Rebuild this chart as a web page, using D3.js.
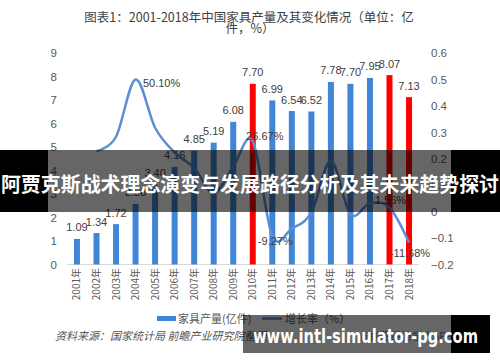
<!DOCTYPE html>
<html>
<head>
<meta charset="utf-8">
<script src="https://cdn.jsdelivr.net/npm/d3@7"></script>
<style>
  body { margin: 0; background: #fff; }
  svg { display: block; font-family: "Liberation Sans", Arial, "Noto Sans CJK SC", sans-serif; }
  .cjk { font-family: "Noto Sans CJK SC", "Noto Sans", sans-serif; }
</style>
</head>
<body>
<div id="chart"></div>
<script>
// Chart data
const years = ["2001年", "2002年", "2003年", "2004年", "2005年", "2006年", "2007年", "2008年", "2009年",
  "2010年", "2011年", "2012年", "2013年", "2014年", "2015年", "2016年", "2017年", "2018年"];
const output = [1.09, 1.34, 1.72, 2.58, 3.40, 4.16, 4.85, 5.19, 6.08, 7.70, 6.99, 6.54, 6.52, 7.78, 7.70, 7.95, 8.07, 7.13];
const outputLabels = ["1.09", "1.34", "1.72", "2.58", "3.40", "4.16", "4.85", "5.19", "6.08", "7.70", "6.99", "6.54", "6.52", "7.78", "7.70", "7.95", "8.07", "7.13"];
// growth rate, starts in 2002
const growth = [null, 0.229, 0.284, 0.501, 0.318, 0.224, 0.166, 0.070, 0.171, 0.2667, -0.0927, -0.064, -0.003, 0.193, -0.010, 0.032, 0.0156, -0.1168];
const growthLabels = { "2004年": "50.10%", "2010年": "26.67%", "2011年": "-9.27%", "2017年": "1.56%", "2018年": "-11.68%" };
const redYears = ["2010年", "2017年", "2018年"];
const leftTicks = [0, 1, 2, 3, 4, 5, 6, 7, 8, 9];
const rightTicks = [-0.2, -0.1, 0, 0.1, 0.2, 0.3, 0.4, 0.5, 0.6];

const width = 500, height = 362;
const svg = d3.select("#chart").append("svg").attr("width", width).attr("height", height);

// scales
const x = d3.scalePoint().domain(years).range([67.2, 418.8]).padding(0.5);
const yL = d3.scaleLinear().domain([0, 9]).range([264.5, 53.3]);
const yR = d3.scaleLinear().domain([-0.2, 0.6]).range([264.5, 53.3]);

// title
const title = svg.append("text").attr("class", "cjk").attr("text-anchor", "middle")
  .attr("fill", "#404040").style("font-size", "12.5px");
title.append("tspan").attr("x", 249).attr("y", 21.5).text("图表1：2001-2018年中国家具产量及其变化情况（单位：亿");
title.append("tspan").attr("x", 250).attr("y", 32.5).text("件，%）");

// axes
const leftAxis = svg.append("g").attr("transform", "translate(60,0)")
  .call(d3.axisLeft(yL).tickValues(leftTicks).tickSize(0).tickPadding(3).tickFormat(d3.format("d")));
const rightAxis = svg.append("g").attr("transform", "translate(428,0)")
  .call(d3.axisRight(yR).tickValues(rightTicks).tickSize(0).tickPadding(3).tickFormat(d => d === 0 ? "0" : d3.format(".1f")(d)));
[leftAxis, rightAxis].forEach(g => {
  g.select(".domain").remove();
  g.selectAll("text").attr("fill", "#595959").style("font-size", "11.5px").style("font-family", "Liberation Sans, Arial, sans-serif");
});

// x axis baseline
svg.append("line").attr("x1", 67).attr("x2", 419).attr("y1", yL(0)).attr("y2", yL(0))
  .attr("stroke", "#d9d9d9").attr("stroke-width", 1);

// x labels (rotated)
svg.append("g").selectAll("text").data(years).join("text")
  .attr("class", "cjk")
  .attr("transform", d => `translate(${x(d) + 3.5},268) rotate(-90)`)
  .attr("text-anchor", "end")
  .attr("fill", "#595959")
  .style("font-size", "10px")
  .text(d => d);

// bars
const barW = 6;
svg.append("g").selectAll("rect").data(years).join("rect")
  .attr("x", d => x(d) - barW / 2)
  .attr("width", barW)
  .attr("y", (d, i) => yL(output[i]))
  .attr("height", (d, i) => yL(0) - yL(output[i]))
  .attr("fill", d => redYears.includes(d) ? "#ff0000" : "#4186d6");

// bar labels
svg.append("g").selectAll("text").data(years).join("text")
  .attr("x", d => x(d))
  .attr("y", (d, i) => yL(output[i]) - 7.5)
  .attr("text-anchor", "middle")
  .attr("fill", "#404040")
  .style("font-size", "11px")
  .text((d, i) => outputLabels[i]);

// growth line (smoothed like the spreadsheet original)
const pts = years.map((d, i) => ({ year: d, v: growth[i] })).filter(p => p.v !== null);
const line = d3.line().x(p => x(p.year)).y(p => yR(p.v)).curve(d3.curveCardinal.tension(0));
svg.append("path").datum(pts).attr("d", line)
  .attr("fill", "none").attr("stroke", "#5b8ed2").attr("stroke-width", 2.5);

// growth labels: offsets relative to the point
const labelOffsets = { "2004年": [26, 4], "2010年": [12, -5], "2011年": [3, 5], "2017年": [1, -7], "2018年": [1, 11] };
svg.append("g").selectAll("text").data(pts.filter(p => growthLabels[p.year])).join("text")
  .attr("x", p => x(p.year) + labelOffsets[p.year][0])
  .attr("y", p => yR(p.v) + labelOffsets[p.year][1])
  .attr("dy", "0.35em")
  .attr("text-anchor", "middle")
  .attr("fill", "#404040")
  .style("font-size", "11px")
  .text(p => growthLabels[p.year]);

// legend
const legend = svg.append("g");
legend.append("rect").attr("x", 157).attr("y", 316).attr("width", 19).attr("height", 5).attr("fill", "#4186d6");
legend.append("text").attr("class", "cjk").attr("x", 178).attr("y", 322.5).attr("fill", "#595959")
  .style("font-size", "11px").text("家具产量(亿件)");
legend.append("line").attr("x1", 262).attr("x2", 282).attr("y1", 318.5).attr("y2", 318.5)
  .attr("stroke", "#5b8ed2").attr("stroke-width", 2.5);
legend.append("text").attr("class", "cjk").attr("x", 285).attr("y", 322.5).attr("fill", "#595959")
  .style("font-size", "11px").text("增长率（%）");

// source line
svg.append("text").attr("class", "cjk").attr("x", 55).attr("y", 340).attr("fill", "#555")
  .style("font-size", "11px").style("font-style", "italic").text("资料来源：国家统计局 前瞻产业研究院整理");
svg.append("text").attr("class", "cjk").attr("x", 360).attr("y", 340).attr("fill", "#777")
  .style("font-size", "10.5px").text("@前瞻经济学人APP");

// overlay banner across the chart
const banner = svg.append("g");
banner.append("rect").attr("x", 0).attr("y", 150).attr("width", 48).attr("height", 62).attr("fill", "#000");
banner.append("rect").attr("x", 48).attr("y", 150).attr("width", 403).attr("height", 62).attr("fill", "rgba(0,0,0,0.6)");
banner.append("rect").attr("x", 451).attr("y", 150).attr("width", 49).attr("height", 62).attr("fill", "#000");
banner.append("text").attr("class", "cjk").attr("x", 1).attr("y", 192)
  .attr("textLength", 498).attr("lengthAdjust", "spacingAndGlyphs")
  .attr("fill", "#fff").style("font-size", "20.5px").style("font-weight", "bold")
  .text("阿贾克斯战术理念演变与发展路径分析及其未来趋势探讨");

// bottom url box
const urlBox = svg.append("g");
urlBox.append("rect").attr("x", 243).attr("y", 315).attr("width", 208).attr("height", 38).attr("fill", "rgba(0,0,0,0.6)");
urlBox.append("rect").attr("x", 451).attr("y", 315).attr("width", 39).attr("height", 38).attr("fill", "#000");
urlBox.append("text").attr("x", 253).attr("y", 343)
  .attr("textLength", 225).attr("lengthAdjust", "spacingAndGlyphs")
  .attr("fill", "#fff").style("font-size", "19px").style("font-weight", "bold")
  .style("font-family", "DejaVu Sans, sans-serif")
  .text("www.intl-simulator-pg.com");
</script>
</body>
</html>
